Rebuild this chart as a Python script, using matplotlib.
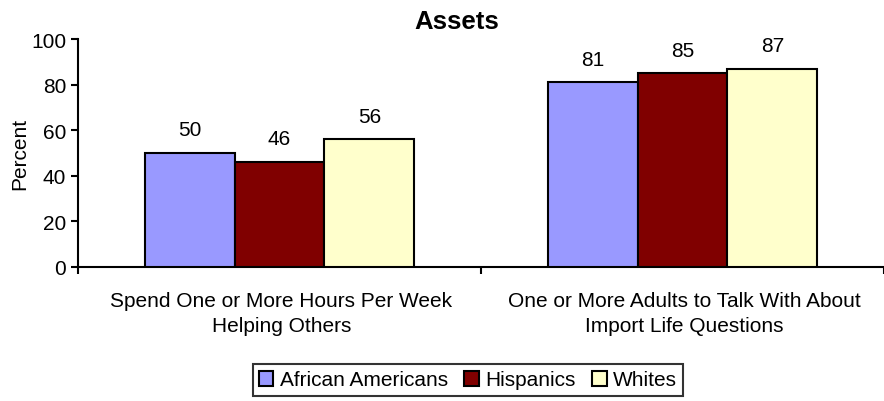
import matplotlib
matplotlib.use("Agg")
import matplotlib.pyplot as plt
import numpy as np

plt.rcParams['font.family'] = ['Liberation Sans', 'DejaVu Sans']

categories = ["Spend One or More Hours Per Week\nHelping Others",
              "One or More Adults to Talk With About\nImport Life Questions"]
series_names = ["African Americans", "Hispanics", "Whites"]
values = {
    "African Americans": [50, 81],
    "Hispanics": [46, 85],
    "Whites": [56, 87],
}
colors = ["#9999FF", "#800000", "#FFFFCC"]
y_ticks = [0, 20, 40, 60, 80, 100]

FS = 15
W, H = 884, 402
fig = plt.figure(figsize=(W / 100, H / 100), dpi=100)
ax = fig.add_axes([78 / W, 1 - 268 / H, (884 - 78) / W, (268 - 40) / H])

x = np.arange(len(categories))
bw = 0.223
for i, name in enumerate(series_names):
    pos = x + (i - 1) * bw
    bars = ax.bar(pos, values[name], width=bw, color=colors[i],
                  edgecolor="black", linewidth=1.5, label=name, zorder=3)
    for b, v in zip(bars, values[name]):
        ax.text(b.get_x() + b.get_width() / 2, v + 6, str(v),
                ha="center", va="bottom", fontsize=FS)

ax.set_xlim(-0.5, 1.49)
ax.set_ylim(0, 100)
ax.set_yticks(y_ticks)
ax.tick_params(axis="y", labelsize=FS, length=5, width=1.5, direction="out")
ax.set_xticks([-0.5, 0.5, 1.5])
ax.set_xticklabels([])
ax.tick_params(axis="x", length=5, width=1.5, direction="out")
for c, lab in zip(x, categories):
    ax.text(c + 0.005, -10.5, lab, ha="center", va="top", fontsize=FS,
            linespacing=1.4, transform=ax.transData)

for s in ["top", "right"]:
    ax.spines[s].set_visible(False)
ax.spines["left"].set_linewidth(1.5)
ax.spines["bottom"].set_linewidth(1.5)

ax.set_ylabel("Percent", fontsize=FS, labelpad=1)

fig.text(457 / W, 1 - 22 / H, "Assets", ha="center", va="center",
         fontsize=18.5, fontweight="bold")

leg = fig.legend(loc="center", bbox_to_anchor=(468 / W, 1 - 381 / H),
                 ncol=3, frameon=True, fancybox=False, fontsize=FS,
                 handlelength=0.7, handleheight=0.7, handletextpad=0.3,
                 columnspacing=0.8, borderpad=0.3)
leg.get_frame().set_edgecolor("black")
leg.get_frame().set_linewidth(1.5)

fig.savefig("out.png", dpi=100)
